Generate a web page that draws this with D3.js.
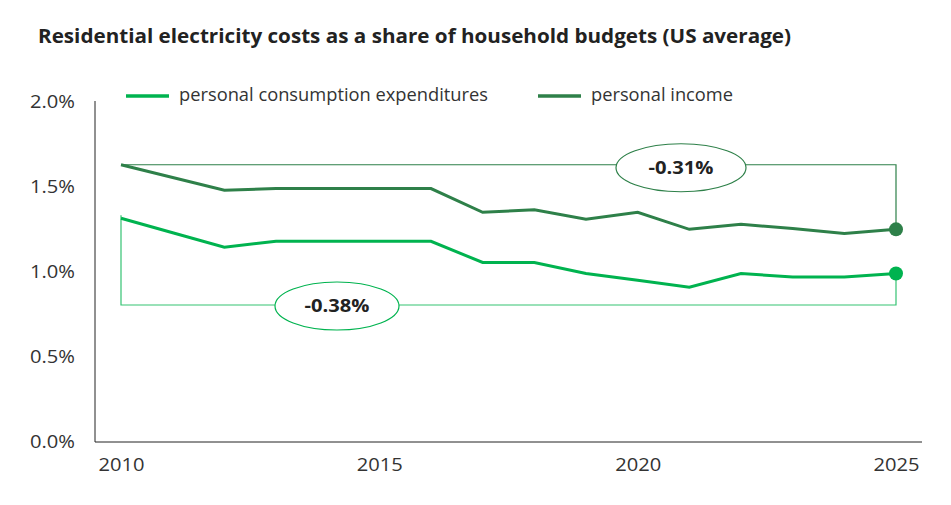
<!DOCTYPE html>
<html>
<head>
<meta charset="utf-8">
<script src="https://cdn.jsdelivr.net/npm/d3@7"></script>
<style>
  body { margin: 0; background: #fff; }
  text { font-family: "Open Sans", sans-serif; }
</style>
</head>
<body>
<script>
// data
var years = [2010, 2011, 2012, 2013, 2014, 2015, 2016, 2017, 2018, 2019, 2020, 2021, 2022, 2023, 2024, 2025];
var pce = [1.31, 1.225, 1.14, 1.175, 1.175, 1.175, 1.175, 1.05, 1.05, 0.985, 0.945, 0.905, 0.985, 0.965, 0.965, 0.985];
var income = [1.625, 1.55, 1.475, 1.485, 1.485, 1.485, 1.485, 1.345, 1.36, 1.305, 1.345, 1.245, 1.275, 1.25, 1.22, 1.245];
var yTicks = [0, 0.5, 1.0, 1.5, 2.0];
var xTicks = [2010, 2015, 2020, 2025];
var seriesNames = ["personal consumption expenditures", "personal income"];
var changeLabels = ["-0.38%", "-0.31%"];
var bracketLevels = [0.8, 1.625]; // level of the horizontal bracket lines

var colors = ["#00b34f", "#2e8049"];

var width = 951, height = 505;

var svg = d3.select("body")
  .append("svg")
  .attr("width", width)
  .attr("height", height)

var x = d3.scaleLinear().domain([2010, 2025]).range([121, 896]);
var y = d3.scaleLinear().domain([0, 2]).range([441, 101]);

// squeeze/stretch text to the width seen in the reference
function fitWidth(sel, w) {
  sel.attr("textLength", w).attr("lengthAdjust", "spacingAndGlyphs");
}

// title
svg.append("text")
  .attr("x", 38)
  .attr("y", 43)
  .attr("font-size", 19)
  .attr("font-weight", "bold")
  .attr("fill", "#222")
  .text("Residential electricity costs as a share of household budgets (US average)")
  .call(fitWidth, 753);

// axes
var yAxis = svg.append("g")
  .attr("transform", "translate(95,0)")
  .call(d3.axisLeft(y).tickValues(yTicks).tickSize(0).tickPadding(20)
    .tickFormat(function(d){ return d.toFixed(1) + "%"; }));
yAxis.select(".domain").attr("stroke", "#222").attr("d", "M0,101V442");
yAxis.selectAll("text").attr("font-size", 17.5).attr("fill", "#333")
  .attr("font-family", "'Open Sans', sans-serif").attr("dy", "0.35em")
  .call(fitWidth, 45);

var xAxis = svg.append("g")
  .attr("transform", "translate(0,442)")
  .call(d3.axisBottom(x).tickValues(xTicks).tickSize(0).tickPadding(17)
    .tickFormat(d3.format("d")));
xAxis.select(".domain").attr("stroke", "#222").attr("d", "M95,0H922");
xAxis.selectAll("text").attr("font-size", 17.5).attr("fill", "#333")
  .attr("font-family", "'Open Sans', sans-serif")
  .call(fitWidth, 46);

// brackets
var last = years.length - 1;
// pce bracket (below)
svg.append("path")
  .attr("fill", "none")
  .attr("stroke", colors[0])
  .attr("stroke-opacity", 0.8)
  .attr("stroke-width", 1.2)
  .attr("d", "M" + x(years[0]) + "," + (y(pce[0]) - 3) +
    "V" + y(bracketLevels[0]) + "H" + x(years[last]) + "V" + y(pce[last]));
// income bracket (above)
svg.append("path")
  .attr("fill", "none")
  .attr("stroke", colors[1])
  .attr("stroke-width", 1.2)
  .attr("d", "M" + x(years[0]) + "," + y(bracketLevels[1]) +
    "H" + x(years[last]) + "V" + y(income[last]));

// lines
var line = d3.line()
  .x(function(d){ return x(d[0]); })
  .y(function(d){ return y(d[1]); });

[pce, income].forEach(function(vals, i){
  svg.append("path")
    .datum(years.map(function(yr, j){ return [yr, vals[j]]; }))
    .attr("fill", "none")
    .attr("stroke", colors[i])
    .attr("stroke-width", 3)
    .attr("d", line);
  svg.append("circle")
    .attr("cx", x(years[last]))
    .attr("cy", y(vals[last]))
    .attr("r", 7)
    .attr("fill", colors[i]);
});

// change labels in ellipses
var labelPos = [
  { cx: 337, cy: y(bracketLevels[0]) + 1, rx: 62, ry: 24 },
  { cx: 681, cy: y(bracketLevels[1]) + 3, rx: 65, ry: 24 }
];
labelPos.forEach(function(p, i){
  svg.append("ellipse")
    .attr("cx", p.cx).attr("cy", p.cy)
    .attr("rx", p.rx).attr("ry", p.ry)
    .attr("fill", "#fff")
    .attr("stroke", colors[i])
    .attr("stroke-width", 1.2);
  svg.append("text")
    .attr("x", p.cx).attr("y", p.cy)
    .attr("dy", "0.35em")
    .attr("text-anchor", "middle")
    .attr("font-size", 18)
    .attr("font-weight", "bold")
    .attr("fill", "#222")
    .text(changeLabels[i])
    .call(fitWidth, 65);
});

// legend
var legendX = [126, 538];
var legendW = [309, 142];
seriesNames.forEach(function(name, i){
  svg.append("line")
    .attr("x1", legendX[i]).attr("x2", legendX[i] + 43)
    .attr("y1", 96).attr("y2", 96)
    .attr("stroke", colors[i])
    .attr("stroke-width", 3.5);
  svg.append("text")
    .attr("x", legendX[i] + 53)
    .attr("y", 101)
    .attr("font-size", 17.5)
    .attr("fill", "#333")
    .text(name)
    .call(fitWidth, legendW[i]);
});
</script>
</body>
</html>
